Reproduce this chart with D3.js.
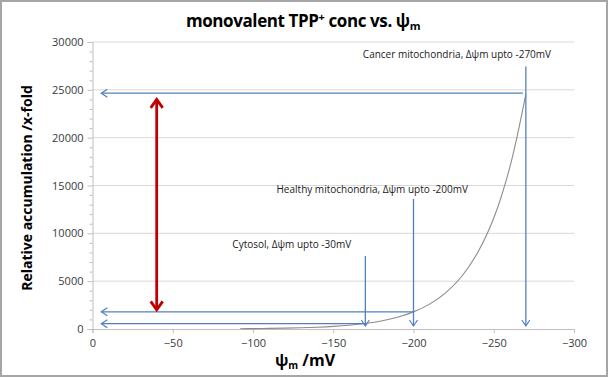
<!DOCTYPE html>
<html><head><meta charset="utf-8">
<script src="https://cdn.jsdelivr.net/npm/d3@7"></script>
<style>body{margin:0;background:#fff}svg{display:block}</style>
</head><body>
<script>
// ---- data ----
const xTicks = [0, -50, -100, -150, -200, -250, -300];
const yTicks = [0, 5000, 10000, 15000, 20000, 25000, 30000];
const yMinorTicks = d3.range(0, 30001, 1000);
// curve: membrane potential (mV) vs relative accumulation
const curvePsi = [-92, -100, -110, -120, -130, -140, -150, -160, -170, -180, -190, -200, -210, -220, -230, -240, -250, -260, -270];
const curveVal = [31, 42, 62, 89, 130, 189, 275, 400, 580, 845, 1230, 1790, 2600, 3780, 5490, 7990, 11600, 16900, 24560];
// annotated compartments
const compLabels = ["Cytosol, \u0394\u03c8m upto -30mV", "Healthy mitochondria, \u0394\u03c8m upto -200mV", "Cancer mitochondria, \u0394\u03c8m upto -270mV"];
const compPsi = [-170, -200, -270];
const compLevel = [560, 1800, 24650];
const compArrowTop = [7640, 13600, 27430];
// red double arrow
const redPsi = -40;
const redRange = [2000, 24000];

// ---- layout ----
const W = 609, H = 380;
const svg = d3.select("body").append("svg").attr("width", W).attr("height", H)
  .style("font-family", "'Open Sans', sans-serif");
svg.append("rect").attr("x", 1).attr("y", 1).attr("width", W - 3).attr("height", H - 5)
  .attr("fill", "#fff").attr("stroke", "#a6a6a6").attr("stroke-width", 2);

const x = d3.scaleLinear().domain([0, -300]).range([92.5, 574]);
const y = d3.scaleLinear().domain([0, 30000]).range([329, 42]);

const blue = "#4F81BD";
const defs = svg.append("defs");
function chevron(id, color, len, half, sw) {
  defs.append("marker").attr("id", id).attr("markerUnits", "userSpaceOnUse")
    .attr("viewBox", `${-len - 2} ${-half - 2} ${len + 4} ${2 * half + 4}`)
    .attr("markerWidth", len + 4).attr("markerHeight", 2 * half + 4)
    .attr("refX", 0).attr("refY", 0).attr("orient", "auto-start-reverse")
    .append("path").attr("d", `M${-len},${-half}L0,0L${-len},${half}`)
    .attr("fill", "none").attr("stroke", color).attr("stroke-width", sw)
    .attr("stroke-linejoin", "miter");
}
chevron("bArrow", blue, 6, 4, 1.2);
chevron("rArrow", "#C00000", 8.5, 6, 2.8);

// gridlines
svg.append("g").selectAll("line").data(yTicks.filter(d => d > 0)).join("line")
  .attr("x1", x(0)).attr("x2", x(-300)).attr("y1", d => y(d)).attr("y2", d => y(d))
  .attr("stroke", "#d9d9d9").attr("stroke-width", 1);

// y axis
const yAxis = svg.append("g").attr("transform", `translate(${x(0)},0)`)
  .call(d3.axisLeft(y).tickValues(yTicks).tickSize(5).tickPadding(4).tickFormat(d3.format("d")));
svg.append("g").attr("transform", `translate(${x(0)},0)`)
  .call(d3.axisLeft(y).tickValues(yMinorTicks.filter(d => d % 5000)).tickSize(3).tickFormat(""))
  .call(g => g.select(".domain").remove())
  .selectAll("line").attr("stroke", "#bfbfbf");
// x axis
const xAxis = svg.append("g").attr("transform", `translate(0,${y(0)})`)
  .call(d3.axisBottom(x).tickValues(xTicks).tickSize(4).tickPadding(6).tickFormat(d3.format("d")));
[yAxis, xAxis].forEach(g => {
  g.select(".domain").attr("stroke", "#bfbfbf");
  g.selectAll(".tick line").attr("stroke", "#bfbfbf");
  g.selectAll("text").attr("font-size", 11).attr("fill", "#3a3a3a")
    .style("font-family", "'Open Sans', sans-serif");
});

// curve
svg.append("path").datum(curvePsi.map((p, i) => [p, curveVal[i]]))
  .attr("d", d3.line().x(d => x(d[0])).y(d => y(d[1])).curve(d3.curveCatmullRom))
  .attr("fill", "none").attr("stroke", "#8c8c8c").attr("stroke-width", 1.1);

// blue arrows
compPsi.forEach((p, i) => {
  // horizontal arrow leftwards
  svg.append("line").attr("x1", x(p) - (i === 2 ? 3 : 0)).attr("y1", y(compLevel[i]))
    .attr("x2", x(-5.5)).attr("y2", y(compLevel[i]))
    .attr("stroke", blue).attr("stroke-width", 1.3).attr("marker-end", "url(#bArrow)");
  // vertical arrow down to axis
  svg.append("line").attr("x1", x(p)).attr("y1", y(compArrowTop[i]))
    .attr("x2", x(p)).attr("y2", y(0) - 3)
    .attr("stroke", blue).attr("stroke-width", 1.3).attr("marker-end", "url(#bArrow)");
});

// annotation labels
const labelOffsets = [[-133, -8], [-137, -6], [-163, -9]];
compLabels.forEach((t, i) => {
  svg.append("text").attr("x", x(compPsi[i]) + labelOffsets[i][0]).attr("y", y(compArrowTop[i]) + labelOffsets[i][1])
    .attr("font-size", 10).attr("fill", "#1a1a1a").text(t);
});

// red double arrow
svg.append("line").attr("x1", x(redPsi)).attr("x2", x(redPsi))
  .attr("y1", y(redRange[0])).attr("y2", y(redRange[1]))
  .attr("stroke", "#C00000").attr("stroke-width", 2.8)
  .attr("marker-start", "url(#rArrow)").attr("marker-end", "url(#rArrow)");

// title
const title = svg.append("text").attr("x", 303).attr("y", 27).attr("text-anchor", "middle")
  .attr("font-size", 17).attr("font-weight", "bold").attr("fill", "#000").attr("letter-spacing", -0.4);
title.append("tspan").text("monovalent TPP");
title.append("tspan").attr("font-size", 11).attr("dy", -6).text("+");
title.append("tspan").attr("dy", 6).text(" conc vs. \u03c8");
title.append("tspan").attr("font-size", 11).attr("dy", 3).text("m");

// axis titles
const xt = svg.append("text").attr("x", 305).attr("y", 366).attr("text-anchor", "middle")
  .attr("font-size", 16).attr("font-weight", "bold").attr("fill", "#000");
xt.append("tspan").text("\u03c8");
xt.append("tspan").attr("font-size", 10).attr("dy", 3).text("m");
xt.append("tspan").attr("dy", -3).text(" /mV");

svg.append("text").attr("transform", "translate(32,188) rotate(-90)").attr("text-anchor", "middle")
  .attr("font-size", 14).attr("font-weight", "bold").attr("fill", "#000")
  .text("Relative accumulation /x-fold");
</script>
</body></html>
